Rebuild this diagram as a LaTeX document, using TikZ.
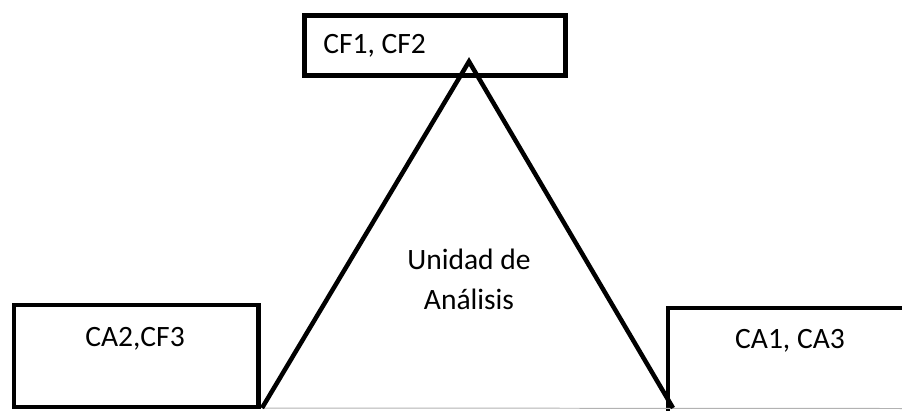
\documentclass[tikz,border=0pt]{standalone}
\usepackage{fontspec}
\setmainfont{Carlito}
\usetikzlibrary{positioning,calc}

\tikzset{
  caja/.style={draw, line width=3.2pt, inner sep=0pt},
  etiqueta/.style={font=\fontsize{21}{28.45}\selectfont, inner sep=0pt}
}

\begin{document}
\begin{tikzpicture}[x=0.025cm, y=-0.025cm]
        \useasboundingbox (0,0) rectangle (902,410);
        \clip (0,0) rectangle (902,410);

        \node[caja, minimum width=6.525cm, minimum height=1.5cm] (cf) at (435,45.5) {};
        \node[caja, minimum width=6.11cm, minimum height=2.55cm] (ca2) at (136.25,356) {};
        \node[caja, minimum width=6cm, minimum height=3cm] (ca1) at (788,368) {};

        \coordinate (apex) at (469,61.5);
        \coordinate (izq) at (262,408);
        \coordinate (der) at (673,408);
        \coordinate (fin) at (902,408.5);

        \draw[gray!60, line width=0.7pt] (izq) -- (fin);
        \draw[line width=3.2pt] (izq) -- (apex) -- (der);

        \node[etiqueta, anchor=base west] (tcf) at (323,53) {CF1, CF2};
        \node[etiqueta, anchor=base] (tca2) at (135,346) {CA2,CF3};
        \node[etiqueta, anchor=base] (tca1) at (790,348) {CA1, CA3};
        \node[etiqueta, align=center, anchor=base] (tu) at (469,309) {Unidad de\\Análisis};

\end{tikzpicture}
\end{document}
